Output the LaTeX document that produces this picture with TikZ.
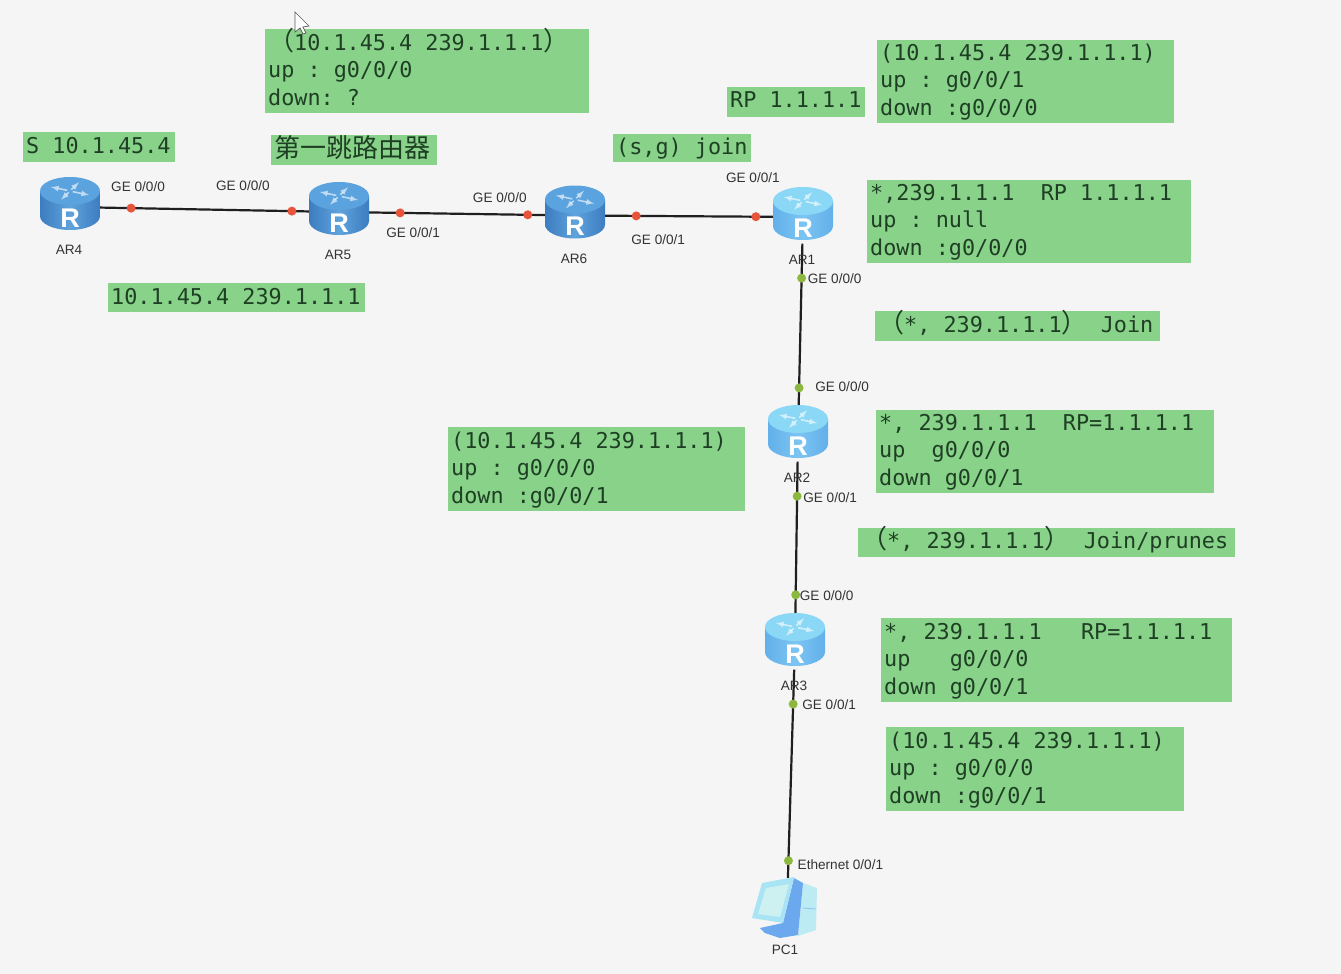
\documentclass[tikz,border=0pt]{standalone}
\usepackage{xcolor}
\usepackage{fontspec}
\setmonofont{DejaVu Sans Mono}
\setsansfont{Liberation Sans}
\newfontfamily\cjk{Noto Sans CJK SC}
\newcommand{\fwl}{\smash{\cjk\fontsize{26}{28}\selectfont （}}
\newcommand{\fwr}{\smash{\cjk\fontsize{26}{28}\selectfont ）}}
\definecolor{boxgreen}{HTML}{88D389}
\definecolor{boxtext}{HTML}{1F3F24}
\definecolor{paper}{HTML}{F5F5F5}
\definecolor{portred}{HTML}{E8533C}
\definecolor{portgreen}{HTML}{8DB83F}
\definecolor{labelgrey}{HTML}{333333}
\definecolor{darkedge}{HTML}{3C7CC0}
\definecolor{darkmid}{HTML}{5FA3DC}
\definecolor{darktop}{HTML}{5BA3DE}
\definecolor{lightedge}{HTML}{62B0EA}
\definecolor{lightmid}{HTML}{7CC4F2}
\definecolor{lighttop}{HTML}{8AD8F5}
\definecolor{pctower}{HTML}{BDEBF3}
\definecolor{pcblue}{HTML}{6CA8EE}
\definecolor{pcframe}{HTML}{A9E4F5}
\definecolor{pcscreen}{HTML}{CDF0F0}
\tikzset{
    pics/router/.style n args={3}{code={
        \path[left color=#1, right color=#1, middle color=#2]
            (-30,-13) -- (-30,12) arc[start angle=180, end angle=0, x radius=30, y radius=14]
            -- (30,-13) -- cycle;
        \fill[#3] (0,-13) ellipse [x radius=30, y radius=14];
        \foreach \a in {25,115,205,295} {
            \draw[white, line width=1.6pt, opacity=.6, -latex]
                ({3*cos(\a)},{-13+1.5*sin(\a)}) -- ({21*cos(\a)},{-13+9.5*sin(\a)});
        }
        \node (letter) [text=white, inner sep=0pt, font=\fontsize{27}{27}\selectfont\sffamily\bfseries] at (0,14) {R};
    }}
}
\begin{document}
\begin{tikzpicture}[x=1pt, y=-1pt, node distance=40pt,
    routernode/.style={minimum width=60pt, minimum height=53pt, inner sep=0pt},
    link/.style={line width=2.2pt, draw=black!88},
    reddot/.style={circle, fill=portred, inner sep=0pt, minimum size=9pt},
    greendot/.style={circle, fill=portgreen, inner sep=0pt, minimum size=9pt},
    portlabel/.style={text=labelgrey, inner sep=0pt, yshift=-1pt, font=\fontsize{13.6}{14}\selectfont\sffamily},
    infobox/.style n args={3}{fill=boxgreen, text=boxtext, anchor=north west, align=flush left,
        text width=#1pt-6pt, text height=#3pt, text depth=#2pt-#3pt, inner xsep=3pt, inner ysep=0pt,
        font=\fontsize{21.8}{27.7}\selectfont\ttfamily\frenchspacing}]

    \fill[paper] (0,0) rectangle (1341,974);
    \useasboundingbox (0,0) rectangle (1341,974);

    % Define nodes
    \node (ar4) [routernode] at (70,207) {};
    \node (ar5) [routernode, right of=ar4, node distance=269pt, yshift=-5pt] {};
    \node (ar6) [routernode, right of=ar5, node distance=236pt, yshift=-3.5pt] {};
    \node (ar1) [routernode, right of=ar6, node distance=228pt, yshift=-1.5pt] {};
    \node (ar2) [routernode, below of=ar1, node distance=218pt, xshift=-5pt] {};
    \node (ar3) [routernode, below of=ar2, node distance=208pt, xshift=-3pt] {};
    \node (pc1) [minimum width=64pt, minimum height=60pt, inner sep=0pt] at (787,908) {};

    % Define connections
    \draw[link] (ar4) -- (ar5) node[reddot, pos=.148] (d41) {} node[reddot, pos=.919] (d50) {};
    \draw[link] (ar5) -- (ar6) node[reddot, pos=.176] (d51) {} node[reddot, pos=.903] (d60) {};
    \draw[link] (ar6) -- (ar1) node[reddot, pos=.185] (d61) {} node[reddot, pos=.899] (d11) {};
    \draw[link] (ar1) -- (ar2) node[greendot, pos=.209] (d10) {} node[greendot, pos=.876] (d20) {};
    \draw[link] (ar2) -- (ar3) node[greendot, pos=.223] (d21) {} node[greendot, pos=.861] (d30) {};
    \draw[link] (ar3) -- (pc1) node[greendot, pos=.165] (d31) {} node[greendot, pos=.918] (dpc) {};

    % Define router icons
    \pic at ([yshift=3pt]ar4) {router={darkedge}{darkmid}{darktop}};
    \pic at ([yshift=3pt]ar5) {router={darkedge}{darkmid}{darktop}};
    \pic at ([yshift=3pt]ar6) {router={darkedge}{darkmid}{darktop}};
    \pic at ([yshift=3pt]ar1) {router={lightedge}{lightmid}{lighttop}};
    \pic at ([yshift=3pt]ar2) {router={lightedge}{lightmid}{lighttop}};
    \pic at ([yshift=3pt]ar3) {router={lightedge}{lightmid}{lighttop}};

    % PC icon
    \fill[pctower] (803,883) -- (817,888) -- (816,930) -- (798,936) -- cycle;
    \draw[pcblue!60!pctower, line width=.8pt] (803,908) -- (816,909);
    \fill[pcblue] (794,878) -- (803,883) -- (798,935) -- (780,938) -- (765,933) -- (760,928) -- (783,923) -- cycle;
    \fill[pcframe] (752,918) -- (762,883) -- (794,877) -- (783,923) -- cycle;
    \fill[pcscreen] (758,914) -- (766,888) -- (789,884) -- (780,917) -- cycle;

    % Router and port labels
    \node (lar4) [portlabel, below of=ar4, node distance=42pt, xshift=-1pt] {AR4};
    \node (lar5) [portlabel, below of=ar5, node distance=42pt, xshift=-1pt] {AR5};
    \node (lar6) [portlabel, below of=ar6, node distance=42.5pt, xshift=-1pt] {AR6};
    \node (lar1) [portlabel, below of=ar1, node distance=42pt, xshift=-1pt] {AR1};
    \node (lar2) [portlabel, below of=ar2, node distance=42pt, xshift=-1pt] {AR2};
    \node (lar3) [portlabel, below of=ar3, node distance=42pt, xshift=-1pt] {AR3};
    \node (lpc1) [portlabel, below of=pc1, node distance=41pt, xshift=-2pt] {PC1};

    \node (p41) [portlabel, above of=d41, node distance=22pt, xshift=7pt] {GE 0/0/0};
    \node (p50) [portlabel, above of=d50, node distance=26pt, xshift=-49pt] {GE 0/0/0};
    \node (p51) [portlabel, below of=d51, node distance=19pt, xshift=13pt] {GE 0/0/1};
    \node (p60) [portlabel, above of=d60, node distance=18pt, xshift=-28pt] {GE 0/0/0};
    \node (p61) [portlabel, below of=d61, node distance=23pt, xshift=22pt] {GE 0/0/1};
    \node (p11) [portlabel, above of=d11, node distance=40pt, xshift=-3pt] {GE 0/0/1};
    \node (p10) [portlabel, right of=d10, node distance=33pt] {GE 0/0/0};
    \node (p20) [portlabel, right of=d20, node distance=43pt, yshift=2pt] {GE 0/0/0};
    \node (p21) [portlabel, right of=d21, node distance=33pt] {GE 0/0/1};
    \node (p30) [portlabel, right of=d30, node distance=31pt] {GE 0/0/0};
    \node (p31) [portlabel, right of=d31, node distance=36pt] {GE 0/0/1};
    \node (ppc) [portlabel, right of=dpc, node distance=52pt, yshift=-3pt] {Ethernet 0/0/1};

    % Define text boxes
    \node (mfirst) [infobox={324}{84}{21}] at (265,29) {\fwl 10.1.45.4 239.1.1.1\fwr\\up : g0/0/0\\down: ?};
    \node (mrp) [infobox={297}{83}{20}] at (877,40) {(10.1.45.4 239.1.1.1)\\up : g0/0/1\\down :g0/0/0};
    \node (rpaddr) [infobox={138}{30}{20}] at (727,87) {RP 1.1.1.1};
    \node (source) [infobox={152}{30}{21}] at (23,132) {S 10.1.45.4};
    \node (firsthop) [infobox={166}{30}{22}, font=\fontsize{26}{28}\selectfont\cjk] at (271,135) {第一跳路由器};
    \node (sgjoin) [infobox={138}{28}{20}] at (613,134) {(s,g) join};
    \node (star1) [infobox={324}{83}{20}] at (867,180) {*,239.1.1.1~~RP 1.1.1.1\\up : null\\down :g0/0/0};
    \node (group) [infobox={257}{29}{21}] at (108,283) {10.1.45.4 239.1.1.1};
    \node (join) [infobox={285}{30}{21}] at (875,311) {\fwl *, 239.1.1.1\fwr~Join};
    \node (star2) [infobox={338}{83}{20}] at (876,410) {*, 239.1.1.1~~RP=1.1.1.1\\up~~g0/0/0\\down g0/0/1};
    \node (sg2) [infobox={297}{84}{21}] at (448,427) {(10.1.45.4 239.1.1.1)\\up : g0/0/0\\down :g0/0/1};
    \node (prunes) [infobox={377}{29}{20}] at (858,528) {\fwl *, 239.1.1.1\fwr~Join/prunes};
    \node (star3) [infobox={351}{84}{21}] at (881,618) {*, 239.1.1.1~~~RP=1.1.1.1\\up~~~g0/0/0\\down g0/0/1};
    \node (sg3) [infobox={298}{84}{21}] at (886,727) {(10.1.45.4 239.1.1.1)\\up : g0/0/0\\down :g0/0/1};

    % Mouse pointer
    \draw[fill=white, draw=black!65, line width=.7pt] (295,12) -- (295,32) -- (300,28) -- (303,34) -- (306,33) -- (303,27) -- (309,26) -- cycle;

\end{tikzpicture}
\end{document}
